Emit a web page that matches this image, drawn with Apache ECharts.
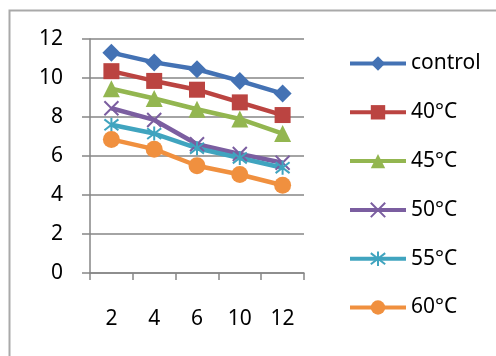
<!DOCTYPE html>
<html>
<head>
<meta charset="utf-8">
<style>
  html, body { margin: 0; padding: 0; background: #ffffff; }
  #chart { width: 496px; height: 356px; }
</style>
<script src="https://cdn.jsdelivr.net/npm/echarts@6/dist/echarts.min.js"></script>
</head>
<body>
<div id="chart"></div>
<script>
// Sampling times (x categories)
const categories = ['2', '4', '6', '10', '12'];

// Series values per treatment
const control = [11.3, 10.8, 10.45, 9.85, 9.2];
const t40 = [10.35, 9.85, 9.4, 8.75, 8.1];
const t45 = [9.45, 8.95, 8.4, 7.9, 7.15];
const t50 = [8.45, 7.85, 6.6, 6.1, 5.65];
const t55 = [7.6, 7.15, 6.4, 5.9, 5.4];
const t60 = [6.85, 6.35, 5.5, 5.05, 4.5];

const seriesNames = ['control', '40°C', '45°C', '50°C', '55°C', '60°C'];
const yTicks = [0, 2, 4, 6, 8, 10, 12];

const FONT = 'Noto Sans';
const colors = ['#4472b4', '#bb4441', '#93b650', '#7b5ea0', '#40a4bf', '#f0903f'];

// Stroke-only marker paths
const xMark = 'path://M0,0 L10,10 M10,0 L0,10';
const starMark = 'path://M0,0 L10,10 M10,0 L0,10 M5,-1.5 L5,11.5';

function lineSeries(name, data, color, symbol, size, stroked) {
  return {
    name: name,
    type: 'line',
    data: data,
    symbol: symbol,
    symbolSize: size,
    showAllSymbol: true,
    lineStyle: { color: color, width: 4.5 },
    itemStyle: stroked
      ? { color: 'rgba(0,0,0,0)', borderColor: color, borderWidth: 2 }
      : { color: color, borderColor: color, borderWidth: 0 },
    emphasis: { disabled: true },
    z: 2
  };
}

const chart = echarts.init(document.getElementById('chart'), null, { renderer: 'canvas' });

chart.setOption({
  animation: false,
  backgroundColor: '#ffffff',
  color: colors,
  graphic: [{
    type: 'rect',
    shape: { x: 9.5, y: 10.5, width: 700, height: 700 },
    style: { fill: 'none', stroke: '#a9a9a9', lineWidth: 2 },
    silent: true,
    z: -10
  }],
  grid: { left: 90, right: 192, top: 39, bottom: 83, containLabel: false },
  legend: {
    orient: 'vertical',
    left: 343,
    top: 48,
    itemWidth: 56,
    itemHeight: 18,
    itemGap: 27.8,
    lineStyle: { width: 4 },
    textStyle: { fontFamily: FONT, fontSize: 21, color: '#000000' },
    data: seriesNames
  },
  xAxis: {
    type: 'category',
    data: categories,
    boundaryGap: true,
    axisLine: { show: true, lineStyle: { color: '#868686', width: 1.5 } },
    axisTick: { show: true, length: 7, alignWithLabel: false, lineStyle: { color: '#868686', width: 1.5 } },
    axisLabel: { margin: 36, fontFamily: FONT, fontSize: 21, color: '#000000' },
    splitLine: { show: false }
  },
  yAxis: {
    type: 'value',
    min: yTicks[0],
    max: yTicks[yTicks.length - 1],
    interval: 2,
    axisLine: { show: true, lineStyle: { color: '#868686', width: 1.5 } },
    axisTick: { show: true, length: 8, lineStyle: { color: '#868686', width: 1.5 } },
    axisLabel: { margin: 27, fontFamily: FONT, fontSize: 21, color: '#000000' },
    splitLine: { show: true, lineStyle: { color: '#868686', width: 1.5 } }
  },
  series: [
    lineSeries(seriesNames[0], control, colors[0], 'diamond', 18, false),
    lineSeries(seriesNames[1], t40, colors[1], 'rect', 16, false),
    lineSeries(seriesNames[2], t45, colors[2], 'triangle', 17, false),
    lineSeries(seriesNames[3], t50, colors[3], xMark, 14, true),
    lineSeries(seriesNames[4], t55, colors[4], starMark, 14, true),
    lineSeries(seriesNames[5], t60, colors[5], 'circle', 17, false)
  ]
});
</script>
</body>
</html>
